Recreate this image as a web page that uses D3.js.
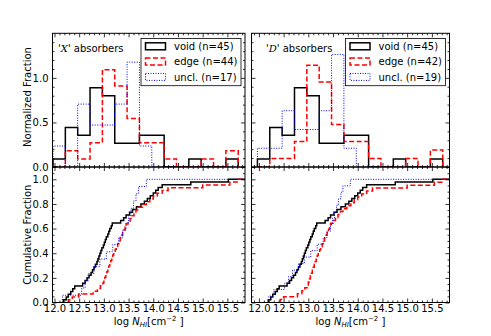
<!DOCTYPE html>
<html>
<head>
<meta charset="utf-8">
<script src="https://cdn.jsdelivr.net/npm/d3@7"></script>
<style>
body { margin: 0; background: #fff; }
svg text { font-family: "DejaVu Sans", sans-serif; font-size: 10px; }
</style>
</head>
<body>
<svg id="chart"></svg>
<script>
const width = 491;
const height = 336;

// histogram bin edges in log N_HI
const binEdges = [11.97, 12.22, 12.47, 12.72, 12.97, 13.22, 13.47, 13.72, 13.97, 14.22, 14.47, 14.72, 14.97, 15.22, 15.47, 15.72];
const xTicks = [12.0, 12.5, 13.0, 13.5, 14.0, 14.5, 15.0, 15.5];
const normTicks = [0.0, 0.5, 1.0];
const cumTicks = [0.0, 0.2, 0.4, 0.6, 0.8, 1.0];
const seriesNames = ['void', 'edge', 'uncl.'];

// 'X' absorbers, log N_HI per absorber
const voidX = [12.18, 12.24, 12.28, 12.33, 12.37, 12.41, 12.57, 12.62, 12.66, 12.70,
    12.74, 12.77, 12.80, 12.83, 12.86, 12.88, 12.90, 12.92, 12.94, 12.96,
    12.99, 13.01, 13.03, 13.05, 13.08, 13.10, 13.12, 13.15, 13.17,
    13.34, 13.40, 13.45, 13.52, 13.58, 13.66, 13.75, 13.82, 13.88, 13.94,
    14.00, 14.05, 14.10, 14.18, 14.76, 15.52];
const edgeX = [12.28, 12.36, 12.49, 12.78, 12.87, 12.93,
    12.98, 13.00, 13.02, 13.04, 13.06, 13.08, 13.10, 13.12, 13.14, 13.16, 13.18, 13.20,
    13.23, 13.25, 13.28, 13.30, 13.33, 13.36, 13.38, 13.41, 13.43, 13.45,
    13.49, 13.53, 13.57, 13.61, 13.65, 13.70, 13.78, 13.86, 13.93,
    14.00, 14.08, 14.18, 14.30, 15.00, 15.55, 15.70];
const unclX = [12.16, 12.55, 12.62, 12.68, 12.80, 12.92, 13.05, 13.18,
    13.30, 13.38, 13.45, 13.50, 13.55, 13.60, 13.65, 13.70, 13.86];

// 'D' absorbers
const voidD = [12.19, 12.24, 12.28, 12.33, 12.37, 12.41, 12.57, 12.62, 12.66, 12.70,
    12.74, 12.77, 12.80, 12.83, 12.86, 12.88, 12.90, 12.92, 12.94, 12.96,
    12.99, 13.01, 13.03, 13.05, 13.08, 13.10, 13.12, 13.15, 13.17,
    13.34, 13.40, 13.45, 13.52, 13.58, 13.66, 13.75, 13.82, 13.88, 13.94,
    14.00, 14.05, 14.10, 14.18, 14.76, 15.52];
const edgeD = [12.43, 12.50, 12.78, 12.87, 12.93,
    12.98, 13.00, 13.02, 13.04, 13.06, 13.08, 13.10, 13.12, 13.14, 13.16, 13.18, 13.20,
    13.23, 13.25, 13.28, 13.30, 13.33, 13.36, 13.38, 13.41, 13.43, 13.45,
    13.50, 13.55, 13.60, 13.65, 13.70, 13.78, 13.86, 13.93,
    14.00, 14.08, 14.18, 14.30, 15.00, 15.55, 15.70];
const unclD = [12.20, 12.30, 12.52, 12.60, 12.68, 12.80, 12.92, 13.05, 13.18,
    13.30, 13.38, 13.45, 13.49, 13.53, 13.57, 13.61, 13.66, 13.70, 13.85];

const styles = [
    { stroke: '#000000', width: 1.5, dash: null },
    { stroke: '#ff0000', width: 1.5, dash: '5,2.5' },
    { stroke: '#0000ff', width: 1, dash: '1,1.5' },
];

const panels = [
    { label: 'X', sets: [voidX, edgeX, unclX], x0: 52.5, x1: 245, xmin: 11.96, yLabels: true },
    { label: 'D', sets: [voidD, edgeD, unclD], x0: 251.5, x1: 449.5, xmin: 11.85, yLabels: false },
];
const xmax = 15.857;

const topY0 = 33.3, midY = 167, botY1 = 302.5;

const svg = d3.select('svg#chart').attr('width', width).attr('height', height);

const bin = d3.bin()
    .domain([binEdges[0], binEdges[binEdges.length - 1]])
    .thresholds(binEdges.slice(1, -1));

const minorX = d3.range(118, 160).map(d => d / 10).filter(d => Math.round(d * 10) % 5 !== 0);

function drawTicks(g, x, y, major, minorY, showX, showY) {
    const [xa, xb] = x.range();
    const [ya, yb] = y.range();
    const fmt = d3.format('.1f');
    const minorXs = minorX.filter(d => d > x.domain()[0] && d < x.domain()[1]);

    g.append('g').attr('transform', 'translate(0,' + ya + ')')
        .call(d3.axisBottom(x).tickValues(xTicks).tickSize(-4).tickPadding(2.5)
            .tickFormat(showX ? fmt : ''));
    g.append('g').attr('transform', 'translate(0,' + ya + ')')
        .call(d3.axisBottom(x).tickValues(minorXs).tickSize(-2).tickFormat(''));
    g.append('g').attr('transform', 'translate(0,' + yb + ')')
        .call(d3.axisTop(x).tickValues(xTicks).tickSize(-4).tickFormat(''));
    g.append('g').attr('transform', 'translate(0,' + yb + ')')
        .call(d3.axisTop(x).tickValues(minorXs).tickSize(-2).tickFormat(''));

    g.append('g').attr('transform', 'translate(' + xa + ',0)')
        .call(d3.axisLeft(y).tickValues(major).tickSize(-4).tickPadding(4)
            .tickFormat(showY ? fmt : ''));
    g.append('g').attr('transform', 'translate(' + xa + ',0)')
        .call(d3.axisLeft(y).tickValues(minorY).tickSize(-2).tickFormat(''));
    g.append('g').attr('transform', 'translate(' + xb + ',0)')
        .call(d3.axisRight(y).tickValues(major).tickSize(-4).tickFormat(''));
    g.append('g').attr('transform', 'translate(' + xb + ',0)')
        .call(d3.axisRight(y).tickValues(minorY).tickSize(-2).tickFormat(''));

    g.selectAll('.domain').remove();
    g.selectAll('.tick line').attr('stroke', '#000').attr('stroke-width', 0.8);
    g.selectAll('.tick text').attr('fill', '#000')
        .attr('font-family', '"DejaVu Sans", sans-serif').attr('font-size', 10);
}

panels.forEach((p, pi) => {
    const x = d3.scaleLinear().domain([p.xmin, xmax]).range([p.x0, p.x1]);
    const yHist = d3.scaleLinear().domain([0, 1.5]).range([midY, topY0]);
    const yCum = d3.scaleLinear().domain([0, 1.1]).range([botY1, midY]);

    // clip rects
    const clipTop = 'clip-top-' + pi, clipBot = 'clip-bot-' + pi;
    svg.append('clipPath').attr('id', clipTop).append('rect')
        .attr('x', p.x0).attr('y', topY0).attr('width', p.x1 - p.x0).attr('height', midY - topY0);
    svg.append('clipPath').attr('id', clipBot).append('rect')
        .attr('x', p.x0).attr('y', midY).attr('width', p.x1 - p.x0).attr('height', botY1 - midY);

    // histograms
    const gh = svg.append('g').attr('clip-path', 'url(#' + clipTop + ')');
    p.sets.forEach((vals, i) => {
        const bins = bin(vals);
        const n = vals.length;
        const pts = [[bins[0].x0, 0]];
        bins.forEach(b => {
            const dens = b.length / (n * (b.x1 - b.x0));
            pts.push([b.x0, dens], [b.x1, dens]);
        });
        pts.push([bins[bins.length - 1].x1, 0]);
        gh.append('path')
            .attr('d', d3.line().x(d => x(d[0])).y(d => yHist(d[1]))(pts))
            .attr('fill', 'none')
            .attr('stroke', styles[i].stroke)
            .attr('stroke-width', styles[i].width)
            .attr('stroke-dasharray', styles[i].dash);
    });

    // cumulative
    const gc = svg.append('g').attr('clip-path', 'url(#' + clipBot + ')');
    p.sets.forEach((vals, i) => {
        const sorted = d3.sort(vals);
        const n = sorted.length;
        const pts = [[sorted[0], 0]];
        sorted.forEach((v, k) => pts.push([v, (k + 1) / n]));
        pts.push([xmax + 0.2, 1]);
        gc.append('path')
            .attr('d', d3.line().curve(d3.curveStepAfter).x(d => x(d[0])).y(d => yCum(d[1]))(pts))
            .attr('fill', 'none')
            .attr('stroke', styles[i].stroke)
            .attr('stroke-width', styles[i].width)
            .attr('stroke-dasharray', styles[i].dash);
    });

    // frames
    svg.append('rect').attr('x', p.x0).attr('y', topY0)
        .attr('width', p.x1 - p.x0).attr('height', midY - topY0)
        .attr('fill', 'none').attr('stroke', '#000').attr('stroke-width', 1);
    svg.append('rect').attr('x', p.x0).attr('y', midY)
        .attr('width', p.x1 - p.x0).attr('height', botY1 - midY)
        .attr('fill', 'none').attr('stroke', '#000').attr('stroke-width', 1);

    drawTicks(svg.append('g'), x, yHist, normTicks,
        d3.range(1, 15).map(d => d / 10).filter(d => d % 0.5 > 0.01), false, p.yLabels);
    drawTicks(svg.append('g'), x, yCum, cumTicks,
        d3.range(1, 22).map(d => d / 20).filter(d => d * 20 % 4 !== 0), true, p.yLabels);

    // panel title
    const t = svg.append('text').attr('x', p.x0 + (pi === 0 ? 5.5 : 14.5)).attr('y', 51.5)
        .attr('font-size', 11);
    t.append('tspan').text("'");
    t.append('tspan').attr('font-style', 'italic').attr('font-family', '"DejaVu Serif", serif').text(p.label);
    t.append('tspan').text("' absorbers");

    // legend
    const lw = 100, lx = p.x1 - 4 - lw, ly = 38.5;
    svg.append('rect').attr('x', lx).attr('y', ly).attr('width', lw).attr('height', 47.2)
        .attr('fill', '#fff').attr('stroke', '#000').attr('stroke-width', 0.8);
    p.sets.forEach((vals, i) => {
        const cy = 46.3 + i * 15.3;
        svg.append('rect').attr('x', lx + 4.5).attr('y', cy - 3.5).attr('width', 20).attr('height', 7)
            .attr('fill', 'none')
            .attr('stroke', styles[i].stroke)
            .attr('stroke-width', styles[i].width)
            .attr('stroke-dasharray', styles[i].dash);
        svg.append('text').attr('x', lx + 33).attr('y', cy + 3.7)
            .text(seriesNames[i] + ' (n=' + vals.length + ')');
    });

    // x label
    const cx = (p.x0 + p.x1) / 2;
    const xl = svg.append('text').attr('x', cx).attr('y', 324.5).attr('text-anchor', 'middle');
    xl.append('tspan').text('log ');
    xl.append('tspan').attr('font-style', 'italic').text('N');
    xl.append('tspan').attr('font-style', 'italic').attr('font-size', 7).attr('dy', 2).text('HI');
    xl.append('tspan').attr('dy', -2).text('[cm');
    xl.append('tspan').attr('font-size', 7).attr('dy', -4).text('\u22122');
    xl.append('tspan').attr('dy', 4).text(' ]');
});

// y axis labels
svg.append('text').attr('transform', 'translate(30.5,97) rotate(-90)')
    .attr('text-anchor', 'middle').text('Normalized Fraction');
svg.append('text').attr('transform', 'translate(30.5,' + ((midY + botY1) / 2) + ') rotate(-90)')
    .attr('text-anchor', 'middle').text('Cumulative Fraction');
</script>
</body>
</html>
